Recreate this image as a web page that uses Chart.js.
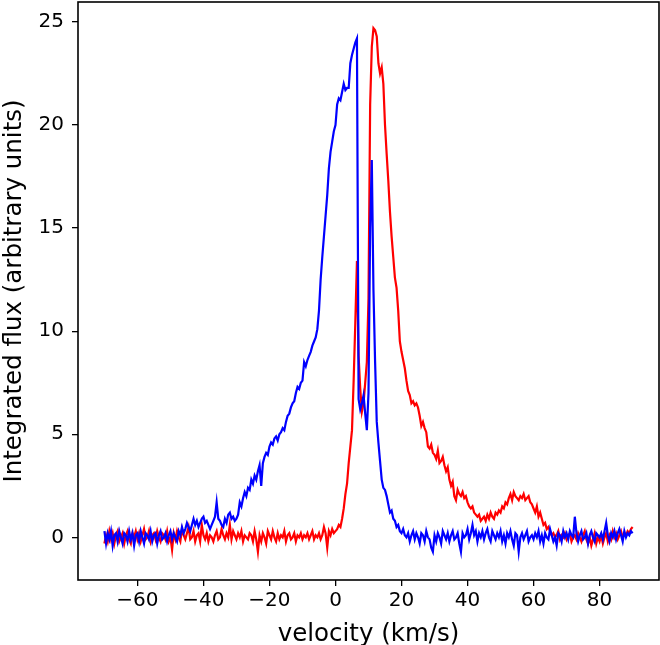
<!DOCTYPE html>
<html>
<head>
<meta charset="utf-8">
<script src="https://cdn.jsdelivr.net/npm/chart.js@4/dist/chart.umd.min.js"></script>
<style>
  html, body { margin: 0; padding: 0; background: #fff; }
  #wrap { width: 660px; height: 645px; }
</style>
</head>
<body>
<div id="wrap"><canvas id="myChart" width="660" height="645"></canvas></div>
<script>
// velocity grid of the spectra (km/s), 0.5 km/s channels from -70 to 90
const velStart = -70;
const velStep = 0.5;

// red profile, one row per 10 km/s
const redFlux = [
  -0.3, 0.1, -0.2, 0.3, -0.1, 0.2, -0.3, 0.1, 0.3, -0.2, 0.0, 0.2, -0.3, 0.1, 0.3, -0.1, -0.3, 0.2, 0.0, 0.3,
  -0.1, 0.2, -0.2, 0.1, 0.4, -0.1, 0.0, 0.3, -0.2, 0.1, 0.2, -0.1, 0.3, 0.0, -0.2, 0.2, 0.1, -0.1, 0.3, -0.2,
  0.0, -0.6, 0.2, -0.1, 0.3, 0.0, -0.2, 0.4, 0.1, -0.1, 0.2, 0.5, -0.1, 0.0, 0.3, -0.2, 0.1, 0.2, -0.2, 0.6,
  0.1, -0.1, 0.2, -0.2, 0.1, 0.0, -0.2, 0.1, 0.3, -0.1, 0.0, 0.4, 0.1, -0.1, 0.2, 0.0, 0.6, -0.1, 0.3, 0.1,
  -0.1, 0.2, 0.0, 0.3, -0.2, 0.1, 0.0, -0.1, 0.2, 0.1, -0.2, 0.3, -0.1, -0.7, 0.1, -0.2, 0.2, 0.0, -0.3, 0.3,
  0.1, -0.1, 0.3, 0.0, -0.2, 0.2, -0.1, 0.1, 0.0, 0.3, -0.2, 0.1, 0.2, -0.1, 0.0, 0.2, -0.2, 0.1, 0.0, 0.2,
  -0.1, 0.1, 0.0, 0.2, -0.1, 0.1, 0.3, -0.1, 0.1, 0.0, 0.2, -0.1, 0.1, 0.5, 0.2, -0.5, 0.3, 0.1, 0.4, 0.2,
  0.3, 0.4, 0.6, 0.5, 0.9, 1.4, 2.1, 2.6, 3.6, 4.4, 5.2, 7.6, 10.4, 13.4, 8.8, 7.2, 6.1, 6.5, 7.5, 8.5,
  11.6, 21.0, 23.8, 24.7, 24.6, 24.3, 23.0, 22.5, 22.8, 22.0, 20.0, 18.6, 17.3, 15.8, 14.6, 13.6, 12.6, 12.1, 11.0, 9.5,
  9.0, 8.6, 8.2, 7.6, 7.1, 6.9, 6.5, 6.6, 6.4, 6.5, 6.3, 5.9, 5.4, 5.6, 5.3, 5.1, 4.4, 4.3, 4.5, 4.1,
  4.0, 3.8, 4.2, 3.6, 3.7, 3.9, 3.5, 3.2, 3.4, 2.8, 2.5, 2.7, 2.0, 1.8, 2.3, 2.1, 2.0, 2.2, 1.9, 2.0,
  1.7, 1.5, 1.4, 1.5, 1.2, 1.1, 1.0, 1.1, 0.8, 0.9, 1.0, 0.8, 1.1, 0.9, 1.2, 1.0, 0.9, 1.2, 1.1, 1.3,
  1.2, 1.5, 1.4, 1.7, 1.6, 1.9, 2.1, 1.8, 2.2, 2.0, 1.9, 1.8, 2.0, 1.9, 2.1, 1.8, 1.9, 2.0, 1.7, 1.6,
  1.4, 1.2, 1.5, 1.0, 1.2, 0.9, 0.6, 0.7, 0.4, 0.5, 0.3, 0.1, 0.2, 0.0, 0.1, 0.3, -0.1, 0.1, 0.0, 0.2,
  -0.1, 0.1, 0.2, -0.2, 0.0, 0.1, -0.1, 0.2, 0.0, -0.2, 0.1, 0.3, -0.1, -0.3, 0.0, -0.4, -0.1, 0.2, -0.3, 0.0,
  -0.2, 0.1, -0.3, 0.0, 0.2, -0.2, 0.1, -0.1, 0.3, 0.0, 0.2, -0.1, 0.1, 0.3, 0.0, 0.2, 0.1, 0.3, 0.2, 0.4,
  0.5
];

// blue profile, same grid
const blueFlux = [
  0.3, -0.3, 0.2, -0.1, 0.3, -0.4, 0.1, 0.2, -0.2, 0.3, 0.0, -0.3, 0.2, 0.1, -0.2, 0.3, -0.1, 0.2, -0.4, 0.1,
  0.2, -0.2, 0.3, 0.0, -0.3, 0.2, 0.1, -0.1, 0.3, -0.2, 0.1, 0.2, -0.3, 0.1, 0.3, -0.1, 0.0, 0.2, -0.2, 0.1,
  0.3, -0.1, 0.2, 0.0, -0.2, 0.3, 0.1, 0.5, 0.2, 0.4, 0.7, 0.5, 0.3, 0.6, 0.9, 0.6, 0.8, 0.5, 0.7, 0.9,
  1.0, 0.7, 0.8, 0.6, 0.4, 0.6, 0.8, 1.0, 1.7, 0.9, 0.8, 0.6, 0.5, 0.9, 0.7, 1.1, 1.2, 0.9, 1.0, 0.8,
  0.9, 1.1, 1.7, 1.5, 1.9, 2.2, 2.0, 2.4, 2.3, 2.8, 2.6, 3.0, 2.8, 3.2, 3.5, 2.5, 3.6, 3.9, 4.1, 4.0,
  4.4, 4.6, 4.5, 4.8, 4.9, 4.7, 5.0, 5.1, 5.3, 5.2, 5.6, 5.9, 6.0, 6.3, 6.5, 6.6, 7.0, 7.3, 7.2, 7.5,
  7.6, 8.5, 8.3, 8.6, 8.8, 9.0, 9.3, 9.5, 9.7, 10.1, 11.0, 12.5, 13.6, 14.6, 15.6, 16.6, 17.9, 18.7, 19.2, 19.7,
  20.0, 21.0, 21.3, 21.2, 21.6, 22.0, 21.7, 21.8, 21.8, 23.0, 23.4, 23.7, 24.0, 24.2, 6.7, 6.2, 6.5, 6.9, 6.0, 5.2,
  7.0, 15.0, 18.3, 12.0, 8.5, 5.6, 4.6, 3.7, 2.8, 2.4, 2.3, 2.0, 1.6, 1.2, 1.3, 0.9, 0.8, 0.5, 0.6, 0.3,
  0.2, 0.4, 0.1, 0.0, 0.2, -0.2, 0.1, 0.3, -0.1, 0.2, 0.0, -0.3, 0.2, 0.1, -0.2, 0.3, 0.0, -0.1, -0.5, -0.7,
  0.1, -0.2, 0.2, 0.0, -0.3, 0.3, 0.1, -0.1, 0.2, -0.2, 0.1, 0.3, -0.1, 0.0, 0.2, -0.3, -0.7, 0.2, 0.0, 0.1,
  0.4, -0.1, 0.2, 0.6, 0.1, 0.3, -0.2, 0.2, 0.0, 0.3, -0.1, 0.2, 0.4, 0.0, -0.2, 0.3, 0.1, -0.1, 0.2, 0.0,
  0.3, -0.2, 0.1, -0.3, 0.2, 0.0, 0.3, -0.1, -0.4, 0.2, 0.1, -0.7, 0.0, 0.2, -0.1, 0.1, 0.3, -0.2, 0.0, 0.1,
  -0.1, 0.2, 0.0, 0.3, -0.2, 0.1, -0.3, 0.2, 0.0, -0.1, 0.4, 0.1, -0.2, 0.0, -0.4, 0.2, 0.1, -0.2, 0.3, 0.0,
  0.2, -0.1, 0.3, 0.1, 0.0, 1.0, 0.2, -0.2, 0.1, 0.3, -0.1, 0.0, 0.2, -0.3, 0.1, 0.3, 0.0, -0.2, 0.2, 0.1,
  0.0, 0.2, -0.1, 0.3, 0.7, 0.1, -0.2, 0.2, 0.0, 0.3, -0.1, 0.2, 0.4, 0.1, -0.2, 0.3, 0.0, 0.2, 0.1, 0.3,
  0.2
];

const xTicks = [-60, -40, -20, 0, 20, 40, 60, 80];
const yTicks = [0, 5, 10, 15, 20, 25];

const xRange = [-78, 98];
const yRange = [-2.07, 25.97];

function toPoints(flux) {
  return flux.map((f, i) => ({ x: velStart + i * velStep, y: f }));
}

// matplotlib uses a real minus sign
function fmt(v) {
  return v < 0 ? "\u2212" + Math.abs(v) : String(v);
}

const FONT = "'DejaVu Sans', sans-serif";

// box round the plot area (top and right spines too)
const frame = {
  id: "frame",
  afterDatasetsDraw(chart) {
    const a = chart.chartArea;
    const c = chart.ctx;
    c.save();
    c.strokeStyle = "#000";
    c.lineWidth = 1.6;
    c.strokeRect(a.left, a.top, a.right - a.left, a.bottom - a.top);
    c.restore();
  },
};

const ctx = document.getElementById("myChart");

const myChart = new Chart(ctx, {
  type: "line",
  data: {
    datasets: [
      {
        label: "blue",
        data: toPoints(blueFlux),
        borderColor: "#0000ff",
        borderWidth: 2.2,
        pointRadius: 0,
        tension: 0,
        order: 0,
      },
      {
        label: "red",
        data: toPoints(redFlux),
        borderColor: "#ff0000",
        borderWidth: 2.2,
        pointRadius: 0,
        tension: 0,
        order: 1,
      },
    ],
  },
  options: {
    responsive: false,
    animation: false,
    devicePixelRatio: 1,
    layout: { padding: { top: 2, right: 1, left: 0, bottom: 0 } },
    plugins: {
      legend: { display: false },
      tooltip: { enabled: false },
    },
    scales: {
      x: {
        type: "linear",
        min: xRange[0],
        max: xRange[1],
        afterBuildTicks: (s) => { s.ticks = xTicks.map((v) => ({ value: v })); },
        afterFit: (s) => { s.height = 65; s.paddingLeft = 0; s.paddingRight = 0; },
        grid: { drawOnChartArea: false, drawTicks: true, tickLength: 6, color: "#000", lineWidth: 1.3 },
        border: { display: false },
        ticks: {
          color: "#000",
          font: { family: FONT, size: 20 },
          padding: 3,
          maxRotation: 0,
          callback: (v) => fmt(v),
        },
        title: {
          display: true,
          text: "velocity (km/s)",
          color: "#000",
          font: { family: FONT, size: 24.5 },
          padding: { top: 0, bottom: -4 },
        },
      },
      y: {
        type: "linear",
        min: yRange[0],
        max: yRange[1],
        afterBuildTicks: (s) => { s.ticks = yTicks.map((v) => ({ value: v })); },
        afterFit: (s) => { s.width = 78; s.paddingTop = 0; s.paddingBottom = 0; },
        grid: { drawOnChartArea: false, drawTicks: true, tickLength: 6, color: "#000", lineWidth: 1.3 },
        border: { display: false },
        ticks: {
          color: "#000",
          font: { family: FONT, size: 20 },
          padding: 8,
          callback: (v) => fmt(v),
        },
        title: {
          display: true,
          text: "Integrated flux (arbitrary units)",
          color: "#000",
          font: { family: FONT, size: 24.5 },
          padding: { top: 0, bottom: 0 },
        },
      },
    },
  },
  plugins: [frame],
});
</script>
</body>
</html>
